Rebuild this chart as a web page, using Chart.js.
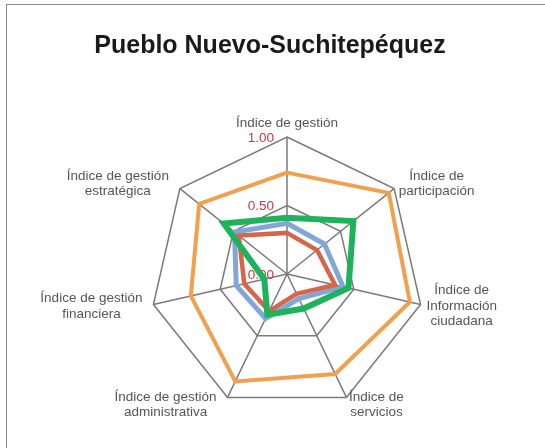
<!DOCTYPE html>
<html>
<head>
<meta charset="utf-8">
<title>Pueblo Nuevo-Suchitepéquez</title>
<script src="https://cdn.jsdelivr.net/npm/chart.js@4.4.1/dist/chart.umd.min.js"></script>
<style>
    html, body { margin: 0; padding: 0; background: #fff; }
    #marco {
        position: absolute; left: 6px; top: 4px; width: 600px; height: 500px;
        border: 1px solid #8c8c8c;
    }
    #contenedor { position: absolute; left: 0; top: 0; width: 545px; height: 448px; }
</style>
</head>
<body>
<div id="marco"></div>
<div id="contenedor"><canvas id="chart" width="545" height="448"></canvas></div>
<script>
// datos
const titulo = 'Pueblo Nuevo-Suchitepéquez';
const indices = [
    ['Índice de gestión'],
    ['Índice de', 'participación'],
    ['Índice de', 'Información', 'ciudadana'],
    ['Índice de', 'servicios'],
    ['Índice de gestión', 'administrativa'],
    ['Índice de gestión', 'financiera'],
    ['Índice de gestión', 'estratégica']
];
const marcas = [0, 0.5, 1];
const serieNaranja = [0.74, 0.95, 0.92, 0.81, 0.87, 0.72, 0.82];
const serieAzul = [0.37, 0.35, 0.42, 0.20, 0.36, 0.38, 0.49];
const serieRoja = [0.30, 0.28, 0.36, 0.16, 0.30, 0.32, 0.45];
const serieVerde = [0.41, 0.62, 0.46, 0.28, 0.33, 0.17, 0.59];

const fuente = '"Liberation Sans", Arial, sans-serif';

// dibuja titulo, valores del eje y nombres de los indices
const etiquetasPlugin = {
    id: 'etiquetas',
    beforeDatasetsDraw: function(chart) {
        const r = chart.scales.r;
        const ctx = chart.ctx;
        ctx.save();
        ctx.font = '13.5px ' + fuente;
        ctx.fillStyle = '#c9383f';
        ctx.textAlign = 'right';
        ctx.textBaseline = 'middle';
        marcas.forEach(function(v) {
            const p = r.getPointPositionForValue(0, v);
            ctx.fillText(v.toFixed(2), p.x - 13, p.y + 1);
        });
        ctx.restore();
    },
    afterDraw: function(chart) {
        const r = chart.scales.r;
        const ctx = chart.ctx;
        ctx.save();
        ctx.font = 'bold 25px ' + fuente;
        ctx.fillStyle = '#1a1a1a';
        ctx.textAlign = 'center';
        ctx.textBaseline = 'middle';
        ctx.fillText(titulo, 270, 46);

        ctx.font = '13.5px ' + fuente;
        ctx.fillStyle = '#555';
        const alto = 15.5;
        indices.forEach(function(lineas, i) {
            const p = r.getPointPosition(i, r.drawingArea);
            const ang = i * 2 * Math.PI / indices.length;
            let w = 0;
            lineas.forEach(function(t) { w = Math.max(w, ctx.measureText(t).width); });
            const h = lineas.length * alto;
            let cx, cy;
            if (i === 0) {
                cx = p.x;
                cy = p.y - 6 - h / 2;
            } else if (Math.sin(ang) > 0) {
                cx = p.x + 6 * Math.sin(ang) + w / 2;
                cy = p.y - Math.cos(ang) * 8;
            } else {
                cx = p.x - 11 - w / 2;
                cy = p.y - Math.cos(ang) * 8;
            }
            lineas.forEach(function(t, k) {
                ctx.fillText(t, cx, cy - h / 2 + alto * (k + 0.5));
            });
        });
        ctx.restore();
    }
};

const ctx = document.getElementById('chart').getContext('2d');
const chart = new Chart(ctx, {
    type: 'radar',
    data: {
        labels: indices,
        datasets: [
            { label: 'Serie 4', data: serieVerde, borderColor: '#1fb25c', borderWidth: 6, order: 0 },
            { label: 'Serie 3', data: serieRoja, borderColor: '#d6654a', borderWidth: 4.5, order: 1 },
            { label: 'Serie 2', data: serieAzul, borderColor: '#80a7d8', borderWidth: 5, order: 2 },
            { label: 'Serie 1', data: serieNaranja, borderColor: '#f1a04f', borderWidth: 4, order: 3 }
        ]
    },
    options: {
        responsive: false,
        animation: false,
        layout: { padding: { left: 150, right: 121, top: 137, bottom: 37 } },
        elements: {
            line: { fill: false, tension: 0, borderJoinStyle: 'miter' },
            point: { radius: 0, hoverRadius: 0 }
        },
        plugins: {
            legend: { display: false },
            title: { display: false },
            tooltip: { enabled: false }
        },
        scales: {
            r: {
                min: 0,
                max: 1,
                ticks: { display: false, stepSize: 0.5 },
                grid: { color: '#7a7a7a', lineWidth: 1.5 },
                angleLines: { color: '#7a7a7a', lineWidth: 1.5 },
                pointLabels: { display: false }
            }
        }
    },
    plugins: [etiquetasPlugin]
});
</script>
</body>
</html>
